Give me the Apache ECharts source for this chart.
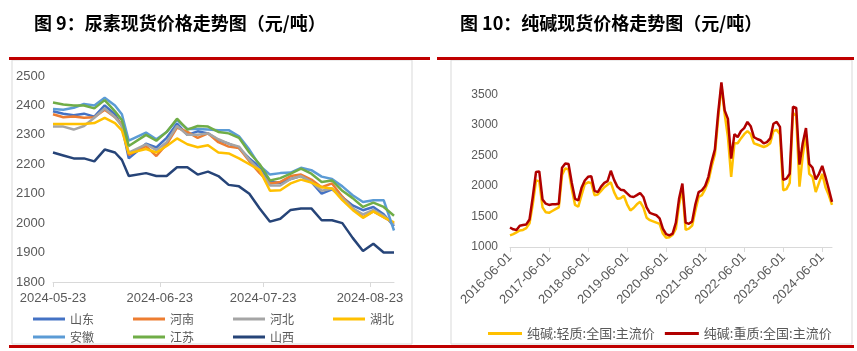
<!DOCTYPE html>
<html>
<head>
    <meta charset="utf-8">
    <title>尿素 / 纯碱</title>
    <style>
        html, body { margin: 0; padding: 0; background: #fff; }
        #main { width: 857px; height: 351px; }
    </style>
</head>
<body>
<div id="main"></div>
<script src="https://cdn.jsdelivr.net/npm/echarts@6/dist/echarts.min.js"></script>
<script type="text/javascript">

// ---- left chart: urea spot price, days counted from 2024-05-23
var ureaDays = [0,3,6,9,12,15,18,20,22,27,30,33,36,39,42,45,48,51,54,57,60,63,66,69,72,75,78,81,84,87,90,93,96,99];
var ureaTickDays = [0, 31, 61, 92];
var ureaTickLabels = ['2024-05-23', '2024-06-23', '2024-07-23', '2024-08-23'];

var shandong = [2380,2372,2367,2372,2362,2400,2370,2330,2220,2270,2257,2290,2338,2300,2312,2305,2282,2270,2255,2220,2190,2140,2137,2150,2160,2140,2100,2115,2088,2060,2044,2055,2030,1990];
var henan    = [2370,2360,2362,2358,2360,2385,2360,2335,2232,2262,2228,2268,2325,2310,2290,2305,2275,2260,2255,2210,2170,2135,2140,2160,2165,2148,2122,2135,2090,2050,2020,2040,2020,2000];
var hebei    = [2328,2328,2318,2330,2358,2390,2360,2330,2240,2268,2248,2275,2330,2300,2300,2305,2285,2270,2260,2215,2180,2128,2128,2150,2160,2140,2110,2118,2085,2050,2030,2045,2025,1995];
var hubei    = [2337,2337,2337,2337,2340,2358,2340,2315,2237,2252,2240,2262,2288,2268,2258,2265,2240,2237,2220,2200,2180,2110,2112,2135,2148,2138,2122,2118,2078,2045,2018,2040,2020,2003];
var anhui    = [2388,2385,2392,2405,2400,2426,2400,2370,2280,2308,2285,2310,2350,2320,2320,2318,2316,2316,2295,2250,2195,2165,2170,2172,2188,2180,2158,2150,2125,2095,2072,2078,2078,1975];
var jiangsu  = [2410,2403,2400,2400,2390,2418,2380,2350,2262,2300,2280,2310,2355,2318,2330,2328,2310,2305,2290,2240,2200,2145,2153,2168,2185,2168,2140,2145,2110,2085,2055,2070,2055,2025];
var shanxi   = [2240,2230,2220,2220,2210,2250,2240,2215,2160,2170,2160,2160,2190,2190,2165,2175,2160,2130,2125,2100,2050,2005,2015,2045,2050,2050,2010,2010,2000,1950,1905,1930,1900,1900];

var ureaNames  = ['山东','河南','河北','湖北','安徽','江苏','山西'];
var ureaColors = ['#4472C4','#ED7D31','#A5A5A5','#FFC000','#5B9BD5','#70AD47','#264478'];
var ureaValues = [shandong, henan, hebei, hubei, anhui, jiangsu, shanxi];

// ---- right chart: soda ash, monthly from 2016-06 to 2024-09
var sodaStart = [2016, 6];
var sodaLight = [1190,1210,1240,1270,1280,1310,1390,1700,2090,2080,
                 1650,1570,1560,1590,1620,1650,2180,2290,2270,1950,
                 1690,1660,1850,2030,2060,2050,1850,1860,1920,1980,
                 2020,2060,1900,1790,1800,1840,1700,1600,1640,1700,
                 1740,1650,1480,1440,1420,1400,1380,1220,1150,1160,
                 1200,1300,1700,1950,1280,1300,1350,1600,1820,1850,
                 1950,2080,2320,2520,3100,3650,3180,2800,2150,2700,
                 2700,2780,2850,2900,2850,2700,2680,2660,2640,2660,
                 2700,2900,2920,2850,1930,1950,2050,3200,3150,1990,
                 2500,2850,2200,2150,1900,2050,2200,1980,1850,1690];
var sodaHeavy = [1320,1290,1280,1350,1360,1370,1450,1820,2230,2240,
                 1780,1710,1690,1700,1700,1710,2300,2370,2360,2050,
                 1790,1765,1970,2090,2150,2160,1920,1900,1990,2050,
                 2080,2250,2100,1990,1940,1930,1880,1830,1820,1850,
                 1885,1820,1650,1560,1540,1520,1470,1300,1210,1190,
                 1220,1400,1800,2040,1400,1380,1420,1700,1900,1930,
                 2000,2150,2400,2600,3200,3700,3240,3100,2450,2850,
                 2800,2900,2950,3050,2980,2800,2770,2750,2700,2720,
                 2780,3020,3050,2970,2100,2120,2200,3300,3280,2350,
                 2700,2950,2360,2300,2110,2200,2330,2150,1950,1740];
var sodaNames = ['纯碱:轻质:全国:主流价', '纯碱:重质:全国:主流价'];

var sodaMonths = [];
for (var i = 0; i < sodaHeavy.length; i++) {
    var mm = sodaStart[1] - 1 + i;
    var y = sodaStart[0] + Math.floor(mm / 12);
    var m = mm % 12 + 1;
    sodaMonths.push(y + '-' + (m < 10 ? '0' + m : m) + '-01');
}
function isJune(idx, val) { return val.substr(5, 2) === '06'; }
function plain(v) { return String(v); }

var grayText = '#595959';
var axisGray = '#d9d9d9';
var cjk = '"Noto Sans CJK SC", sans-serif';
var latin = '"Liberation Sans", Arial, sans-serif';

var series = [];
for (var s = 0; s < ureaNames.length; s++) {
    series.push({
        name: ureaNames[s],
        type: 'line',
        xAxisIndex: 0, yAxisIndex: 0,
        showSymbol: false,
        color: ureaColors[s],
        lineStyle: { width: 2.5 },
        data: ureaDays.map(function (d, i) { return [d, ureaValues[s][i]]; })
    });
}
series.push({
    name: sodaNames[0], type: 'line', xAxisIndex: 1, yAxisIndex: 1,
    showSymbol: false, color: '#FFC000', lineStyle: { width: 2.5 }, data: sodaLight
});
series.push({
    name: sodaNames[1], type: 'line', xAxisIndex: 1, yAxisIndex: 1,
    showSymbol: false, color: '#B00000', lineStyle: { width: 2.5 }, data: sodaHeavy
});

var chart = echarts.init(document.getElementById('main'));

var option = {
    animation: false,
    title: [{
        text: '图 9：尿素现货价格走势图（元/吨）', left: 29, top: 9,
        textStyle: { fontFamily: cjk, fontSize: 18, fontWeight: 'bold', color: '#000' }
    }, {
        text: '图 10：纯碱现货价格走势图（元/吨）', left: 455, top: 9,
        textStyle: { fontFamily: cjk, fontSize: 18, fontWeight: 'bold', color: '#000' }
    }],
    graphic: [
        { type: 'rect', shape: { x: 12, y: 60, width: 400, height: 284 }, style: { fill: null, stroke: axisGray, lineWidth: 1 }, silent: true },
        { type: 'rect', shape: { x: 451, y: 60, width: 401, height: 284 }, style: { fill: null, stroke: axisGray, lineWidth: 1 }, silent: true },
        { type: 'rect', shape: { x: 9, y: 57, width: 421, height: 3 }, style: { fill: '#C00000' }, silent: true },
        { type: 'rect', shape: { x: 437, y: 57, width: 417, height: 3 }, style: { fill: '#C00000' }, silent: true },
        { type: 'rect', shape: { x: 9, y: 345, width: 845, height: 3 }, style: { fill: '#C00000' }, silent: true }
    ],
    legend: [{
        data: ureaNames.slice(0, 4), left: 33, top: 313, padding: 0,
        itemWidth: 32, itemHeight: 12, itemGap: 39,
        icon: 'path://M0,5 L32,5 L32,8 L0,8 Z',
        textStyle: { fontFamily: cjk, fontSize: 12, color: grayText }
    }, {
        data: ureaNames.slice(4), left: 33, top: 331, padding: 0,
        itemWidth: 32, itemHeight: 12, itemGap: 39,
        icon: 'path://M0,5 L32,5 L32,8 L0,8 Z',
        textStyle: { fontFamily: cjk, fontSize: 12, color: grayText }
    }, {
        data: sodaNames, left: 488, top: 327, padding: 0,
        itemWidth: 34, itemHeight: 12, itemGap: 10,
        icon: 'path://M0,5 L34,5 L34,8 L0,8 Z',
        textStyle: { fontFamily: cjk, fontSize: 13, color: grayText }
    }],
    grid: [
        { left: 53, right: 463, top: 76, bottom: 69 },
        { left: 510, right: 25, top: 64, bottom: 104 }
    ],
    xAxis: [{
        type: 'value', gridIndex: 0, min: 0, max: 99,
        splitLine: { show: false },
        axisLine: { lineStyle: { color: axisGray } },
        axisTick: { customValues: ureaTickDays, lineStyle: { color: axisGray }, length: 5 },
        axisLabel: {
            customValues: ureaTickDays, color: grayText, fontFamily: latin, fontSize: 13, margin: 10,
            formatter: function (v) { return ureaTickLabels[ureaTickDays.indexOf(v)] || ''; }
        }
    }, {
        type: 'category', gridIndex: 1, data: sodaMonths, boundaryGap: false,
        axisLine: { lineStyle: { color: axisGray } },
        axisTick: { interval: isJune, lineStyle: { color: axisGray }, length: 5 },
        axisLabel: { interval: isJune, rotate: 45, color: grayText, fontFamily: latin, fontSize: 13, margin: 8 }
    }],
    yAxis: [{
        type: 'value', gridIndex: 0, min: 1800, max: 2500, interval: 100,
        splitLine: { show: false }, axisLine: { show: false }, axisTick: { show: false },
        axisLabel: { color: grayText, fontFamily: latin, fontSize: 13, margin: 8, formatter: plain }
    }, {
        type: 'value', gridIndex: 1, min: 1000, max: 4000, interval: 500,
        splitLine: { show: false }, axisLine: { show: false }, axisTick: { show: false },
        axisLabel: { color: grayText, fontFamily: latin, fontSize: 12, margin: 12, showMaxLabel: false, formatter: plain }
    }],
    series: series
};

chart.setOption(option);
</script>
</body>
</html>
